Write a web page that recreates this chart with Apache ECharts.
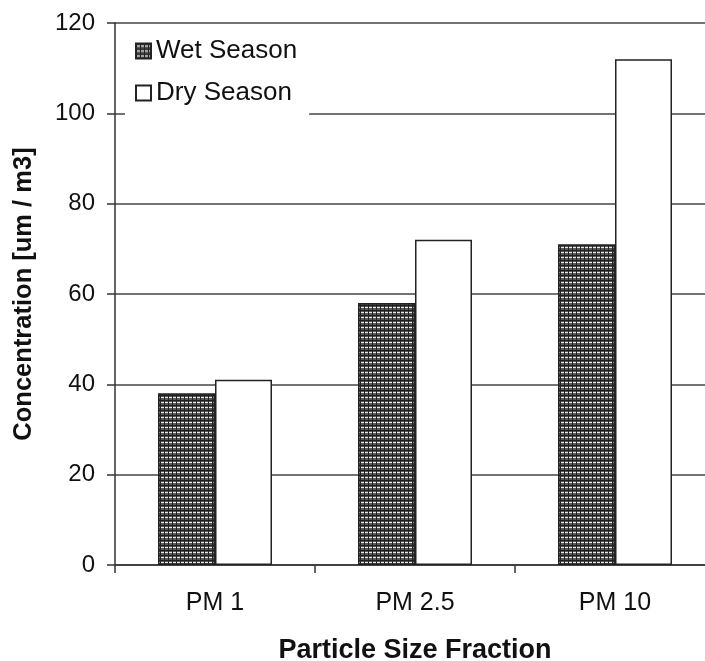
<!DOCTYPE html>
<html>
<head>
<meta charset="utf-8">
<script src="https://cdn.jsdelivr.net/npm/echarts@6/dist/echarts.min.js"></script>
<style>
html,body{margin:0;padding:0;background:#fff;}
#chart{width:705px;height:661px;}
</style>
</head>
<body>
<div id="chart"></div>
<script>
var categories = ['PM 1', 'PM 2.5', 'PM 10'];
var wetSeason = [38, 58, 71];
var drySeason = [41, 72, 112];
var yTicks = [0, 20, 40, 60, 80, 100, 120];

function makePattern() {
  var c = document.createElement('canvas');
  c.width = 4; c.height = 5;
  var g = c.getContext('2d');
  g.fillStyle = '#5a5a5a'; g.fillRect(0, 0, 4, 5);
  g.fillStyle = '#e8e8e8'; g.fillRect(0, 2, 4, 1);
  g.fillStyle = '#1e1e1e'; g.fillRect(0, 0, 4, 1);
  g.fillStyle = '#222'; g.fillRect(0, 0, 1, 5);
  return c;
}
var pattern = { image: makePattern(), repeat: 'repeat' };

var font = 'Liberation Sans, Arial, sans-serif';
var chart = echarts.init(document.getElementById('chart'));
chart.setOption({
  backgroundColor: '#fff',
  animation: false,
  grid: { left: 115, top: 23, width: 600, height: 542, containLabel: false, outerBoundsMode: 'none' },
  legend: {
    orient: 'vertical',
    left: 125, top: 30,
    padding: [8, 12, 12, 10],
    backgroundColor: '#fff',
    icon: 'rect',
    itemWidth: 15, itemHeight: 15, itemGap: 16,
    z: 10,
    textStyle: { fontFamily: font, fontSize: 26, color: '#111', lineHeight: 26 },
    data: ['Wet Season', 'Dry Season']
  },
  xAxis: {
    type: 'category',
    data: categories,
    boundaryGap: true,
    name: 'Particle Size Fraction',
    nameLocation: 'middle',
    nameGap: 72,
    nameTextStyle: { fontFamily: font, fontSize: 27, fontWeight: 'bold', color: '#111' },
    axisLine: { show: true, lineStyle: { color: '#333', width: 1.5 } },
    axisTick: { show: true, length: 8, inside: false, lineStyle: { color: '#333', width: 1.5 } },
    axisLabel: { fontFamily: font, fontSize: 25, color: '#111', margin: 26 },
    splitLine: { show: false }
  },
  yAxis: {
    type: 'value',
    min: 0, max: 120, interval: 20,
    name: 'Concentration [um / m3]',
    nameLocation: 'middle',
    nameGap: 78,
    nameRotate: 90,
    nameTextStyle: { fontFamily: font, fontSize: 25.5, fontWeight: 'bold', color: '#111' },
    axisLine: { show: true, lineStyle: { color: '#333', width: 1.5 } },
    axisTick: { show: true, length: 8, inside: false, lineStyle: { color: '#333', width: 1.5 } },
    axisLabel: { fontFamily: font, fontSize: 24, color: '#111', margin: 20,
      formatter: function (v) { return yTicks.indexOf(v) >= 0 ? String(v) : ''; } },
    splitLine: { show: true, lineStyle: { color: '#444', width: 1.5 } }
  },
  series: [
    {
      name: 'Wet Season', type: 'bar', data: wetSeason,
      barGap: '0%', barCategoryGap: '43%',
      itemStyle: { color: pattern, borderColor: '#222', borderWidth: 1.5 }
    },
    {
      name: 'Dry Season', type: 'bar', data: drySeason,
      barGap: '0%', barCategoryGap: '43%',
      itemStyle: { color: '#fff', borderColor: '#222', borderWidth: 1.5 }
    }
  ]
});
</script>
</body>
</html>
